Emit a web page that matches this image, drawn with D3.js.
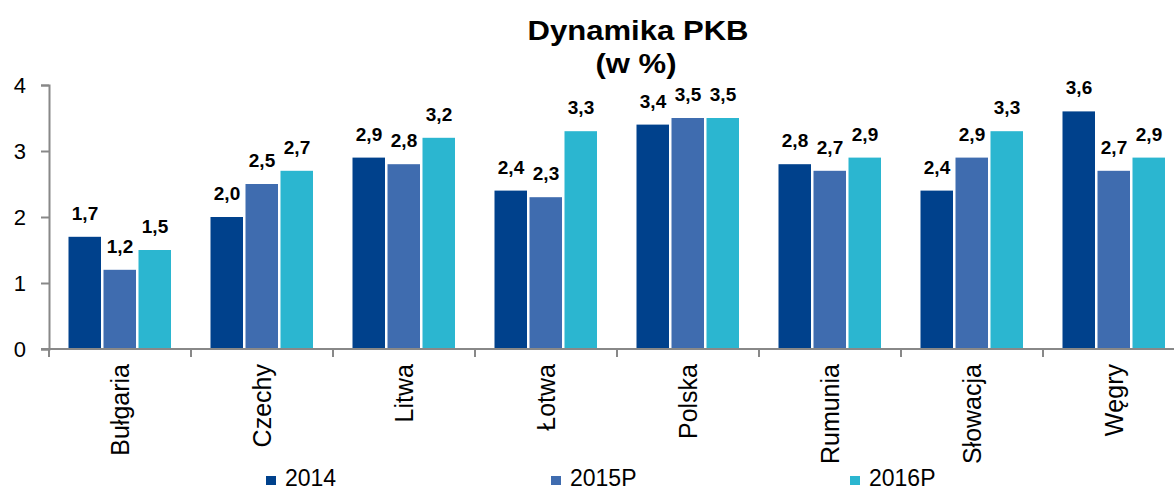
<!DOCTYPE html>
<html>
<head>
<meta charset="utf-8">
<script src="https://cdn.jsdelivr.net/npm/d3@7"></script>
<style>
  body { margin: 0; background: #fff; }
  svg { display: block; font-family: Arial, "Liberation Sans", sans-serif; }
</style>
</head>
<body>
<div id="chart"></div>
<script>
// categories and series
var countries = ["Bułgaria", "Czechy", "Litwa", "Łotwa", "Polska", "Rumunia", "Słowacja", "Węgry"];
var seriesNames = ["2014", "2015P", "2016P"];
var v2014  = [1.7, 2.0, 2.9, 2.4, 3.4, 2.8, 2.4, 3.6];
var v2015P = [1.2, 2.5, 2.8, 2.3, 3.5, 2.7, 2.9, 2.7];
var v2016P = [1.5, 2.7, 3.2, 3.3, 3.5, 2.9, 3.3, 2.9];
var yTicks = [0, 1, 2, 3, 4];
var colors = ["#00418c", "#3f6caf", "#2bb6d0"];

var W = 1174, H = 492;
var svg = d3.select("#chart").append("svg")
    .attr("width", W)
    .attr("height", H);

var rows = countries.map(function(c, i){
    return {name: c, vals: [v2014[i], v2015P[i], v2016P[i]]};
});

// scales (plot runs past the right edge, as in the source)
var x = d3.scaleBand().domain(countries).range([49, 1185]);
var xs = d3.scaleBand().domain(seriesNames).range([18.5, x.bandwidth() - 18.5]);
var y = d3.scaleLinear().domain([0, 4]).range([349, 85]);

// title (source font is a bit wider than Arial)
svg.append("text")
    .attr("x", 638).attr("y", 40)
    .attr("text-anchor", "middle")
    .attr("textLength", 221).attr("lengthAdjust", "spacingAndGlyphs")
    .style("font-size", "28px").style("font-weight", "bold")
    .text("Dynamika PKB");
svg.append("text")
    .attr("x", 636).attr("y", 73)
    .attr("text-anchor", "middle")
    .attr("textLength", 81).attr("lengthAdjust", "spacingAndGlyphs")
    .style("font-size", "28px").style("font-weight", "bold")
    .text("(w %)");

// bars
var groups = svg.selectAll("g.country")
    .data(rows)
    .enter().append("g")
    .attr("class", "country")
    .attr("transform", function(d){ return "translate(" + x(d.name) + ",0)"; });

groups.selectAll("rect")
    .data(function(d){ return d.vals.map(function(v, k){ return {s: seriesNames[k], v: v, k: k}; }); })
    .enter().append("rect")
    .attr("x", function(d){ return xs(d.s) + 1; })
    .attr("width", xs.bandwidth() - 2.5)
    .attr("y", function(d){ return y(d.v); })
    .attr("height", function(d){ return y(0) - y(d.v); })
    .style("fill", function(d){ return colors[d.k]; });

groups.selectAll("text.val")
    .data(function(d){ return d.vals.map(function(v, k){ return {s: seriesNames[k], v: v}; }); })
    .enter().append("text")
    .attr("class", "val")
    .attr("x", function(d){ return xs(d.s) + xs.bandwidth() / 2; })
    .attr("y", function(d){ return y(d.v) - 17; })
    .attr("text-anchor", "middle")
    .style("font-size", "19px").style("font-weight", "bold")
    .text(function(d){ return d3.format(".1f")(d.v).replace(".", ","); });

// y axis
var yAxis = d3.axisLeft(y).tickValues(yTicks).tickSize(8).tickFormat(d3.format("d"));
var ya = svg.append("g").attr("transform", "translate(49,0)").call(yAxis);
ya.select(".domain").attr("stroke", "#888").attr("stroke-width", 2);
ya.selectAll(".tick line").attr("stroke", "#888").attr("stroke-width", 2);
ya.selectAll(".tick text")
    .attr("x", -23)
    .style("font-size", "22px").style("font-family", "Arial, 'Liberation Sans', sans-serif")
    .attr("fill", "#000");

// x axis: line and boundary ticks
svg.append("line")
    .attr("x1", 41).attr("x2", 1185)
    .attr("y1", y(0)).attr("y2", y(0))
    .attr("stroke", "#888").attr("stroke-width", 2);
svg.selectAll("line.xtick")
    .data(countries)
    .enter().append("line")
    .attr("class", "xtick")
    .attr("x1", function(d){ return x(d); }).attr("x2", function(d){ return x(d); })
    .attr("y1", y(0)).attr("y2", y(0) + 8)
    .attr("stroke", "#888").attr("stroke-width", 2);

svg.selectAll("text.cat")
    .data(countries)
    .enter().append("text")
    .attr("class", "cat")
    .attr("transform", function(d){
        return "translate(" + (x(d) + x.bandwidth() / 2) + ",364) rotate(-90)";
    })
    .attr("text-anchor", "end")
    .attr("dy", "0.35em")
    .style("font-size", "25px")
    .text(function(d){ return d; });

// legend
var legX = [266, 551, 850];
var leg = svg.selectAll("g.leg")
    .data(seriesNames)
    .enter().append("g")
    .attr("class", "leg")
    .attr("transform", function(d, i){ return "translate(" + legX[i] + ",0)"; });
leg.append("rect")
    .attr("x", 0).attr("y", 476)
    .attr("width", 10).attr("height", 9)
    .style("fill", function(d, i){ return colors[i]; });
leg.append("text")
    .attr("x", 19).attr("y", 486)
    .style("font-size", "23px")
    .text(function(d){ return d; });
</script>
</body>
</html>
